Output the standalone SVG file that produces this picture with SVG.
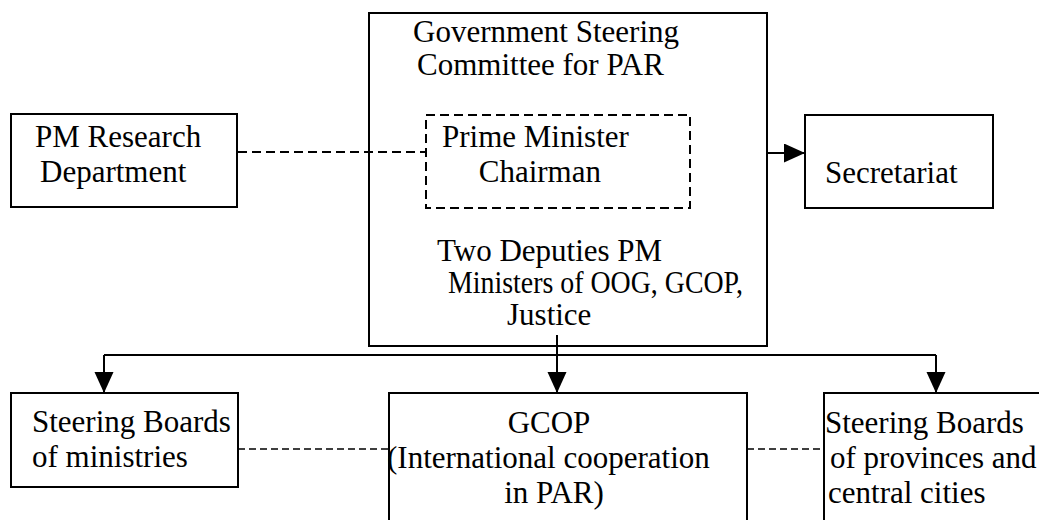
<svg xmlns="http://www.w3.org/2000/svg" width="1039" height="520" viewBox="0 0 1039 520">
<style>
  .box { fill: none; stroke: #000; stroke-width: 2; }
  .dbox { fill: none; stroke: #000; stroke-width: 2; stroke-dasharray: 9 5; }
  .solid { fill: none; stroke: #000; stroke-width: 2; }
  .dash { fill: none; stroke: #000; stroke-width: 2; stroke-dasharray: 9 5; }
  .dash2 { fill: none; stroke: #000; stroke-width: 1.5; stroke-dasharray: 7 4; }
  text { font-size: 31px; fill: #000; }
</style>
<defs>
  <marker id="arrow" markerUnits="userSpaceOnUse" markerWidth="22" markerHeight="20" refX="21" refY="9.5" orient="auto">
    <polygon points="0,0 21,9.5 0,19" fill="#000"/>
  </marker>
</defs>
<rect width="1039" height="520" fill="#fff"/>

<g id="connectors">
  <line class="dash" x1="238" y1="152" x2="426" y2="152"/>
  <line class="solid" x1="767" y1="153" x2="805" y2="153" marker-end="url(#arrow)"/>
  <line class="solid" x1="104" y1="355" x2="936" y2="355"/>
  <line class="solid" x1="104" y1="355" x2="104" y2="393" marker-end="url(#arrow)"/>
  <line class="solid" x1="557" y1="335" x2="557" y2="393" marker-end="url(#arrow)"/>
  <line class="solid" x1="936" y1="355" x2="936" y2="393" marker-end="url(#arrow)"/>
  <line class="dash2" x1="238" y1="449" x2="389" y2="449"/>
  <line class="dash2" x1="747" y1="449" x2="824" y2="449"/>
</g>

<g font-family="'Liberation Serif', 'DejaVu Serif', serif">
<g id="steering-committee">
  <rect class="box" x="369" y="13" width="398" height="333"/>
  <text x="413" y="42">Government Steering</text>
  <text x="417" y="75">Committee for PAR</text>
  <text x="437" y="261">Two Deputies PM</text>
  <text x="448" y="293" textLength="295" lengthAdjust="spacingAndGlyphs">Ministers of OOG, GCOP,</text>
  <text x="507" y="325">Justice</text>
</g>

<g id="prime-minister">
  <rect class="dbox" x="426" y="115" width="264" height="93"/>
  <text x="442" y="147">Prime Minister</text>
  <text x="601" y="182" text-anchor="end">Chairman</text>
</g>

<g id="pm-research">
  <rect class="box" x="11" y="114" width="226" height="93"/>
  <text x="35" y="147">PM Research</text>
  <text x="40" y="182">Department</text>
</g>

<g id="secretariat">
  <rect class="box" x="805" y="115" width="188" height="93"/>
  <text x="825" y="183">Secretariat</text>
</g>

<g id="steering-ministries">
  <rect class="box" x="11" y="393" width="227" height="94"/>
  <text x="32" y="432">Steering Boards</text>
  <text x="32" y="467">of ministries</text>
</g>

<g id="gcop">
  <rect class="box" x="389" y="393" width="358" height="140"/>
  <text x="549" y="433" text-anchor="middle">GCOP</text>
  <text x="387" y="468">(International cooperation</text>
  <text x="554" y="503" text-anchor="middle">in PAR)</text>
</g>

<g id="steering-provinces">
  <rect class="box" x="824" y="393" width="240" height="140"/>
  <text x="825" y="433">Steering Boards</text>
  <text x="830" y="468">of provinces and</text>
  <text x="828" y="503">central cities</text>
</g>
</g>
</svg>
